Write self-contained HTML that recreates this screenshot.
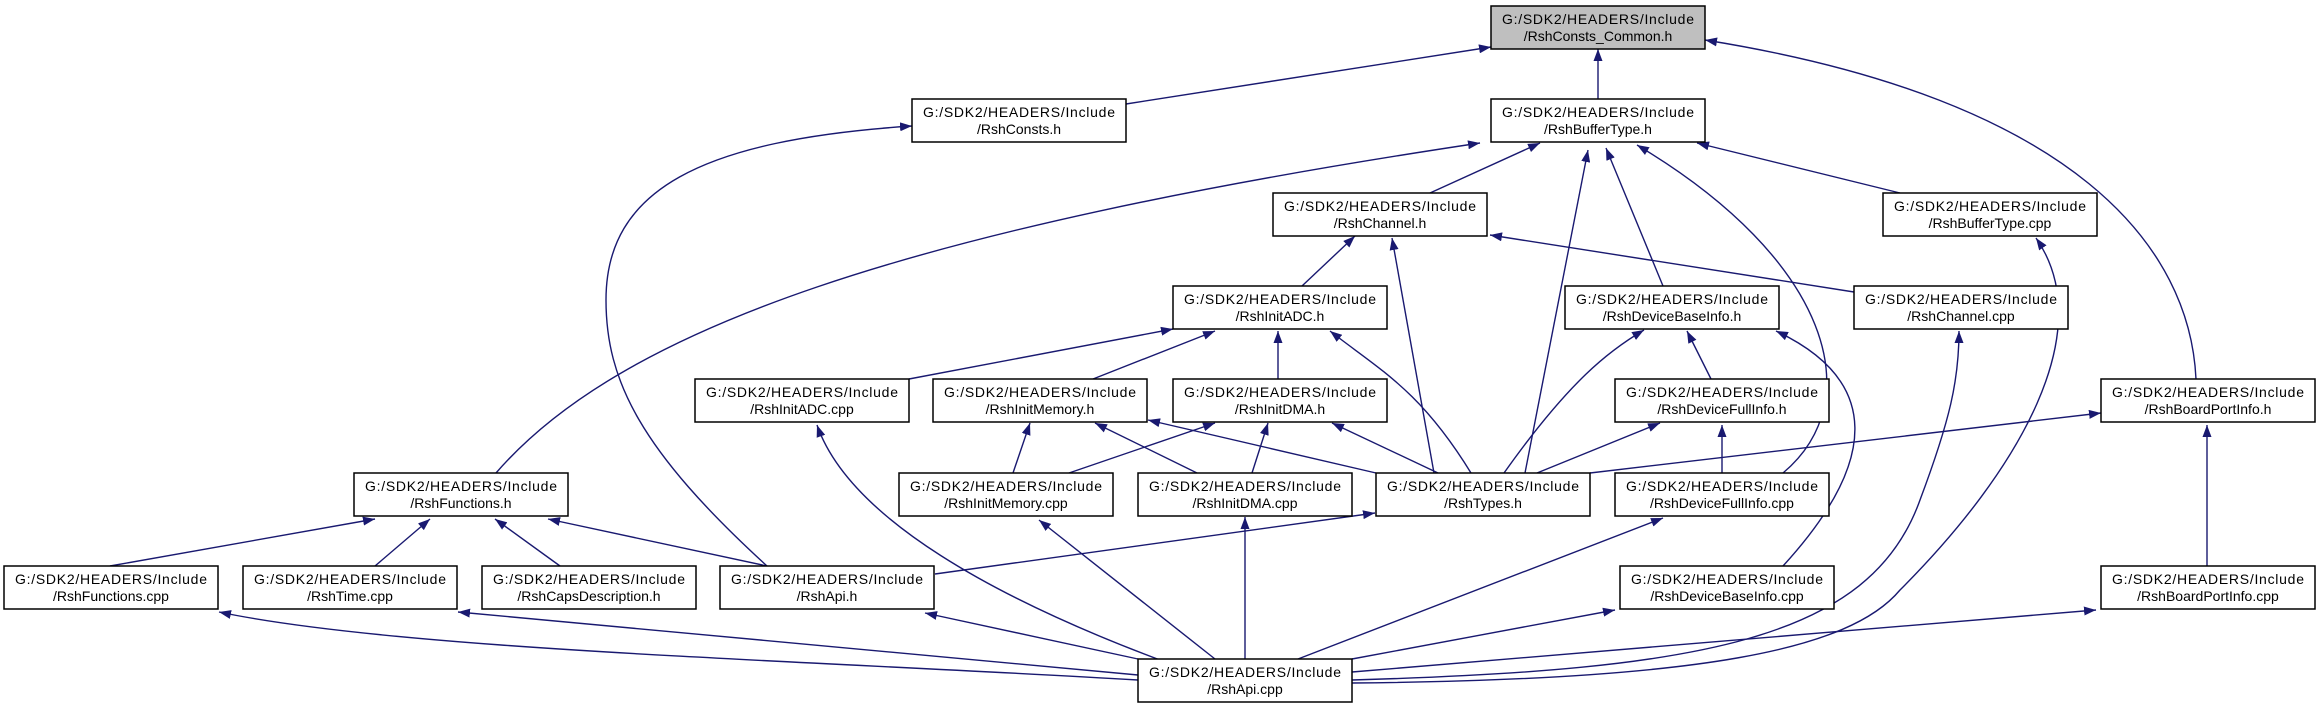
<!DOCTYPE html>
<html><head><meta charset="utf-8"><style>
html,body{margin:0;padding:0;background:#fff;}
svg{display:block;}
text{font-family:"Liberation Sans",sans-serif;font-size:14px;fill:#000;}
</style></head><body>
<svg width="2321" height="709" viewBox="0 0 2321 709" xmlns="http://www.w3.org/2000/svg">
<defs>
<marker id="a" markerWidth="12" markerHeight="9" refX="12" refY="4.5" orient="auto" markerUnits="userSpaceOnUse">
<path d="M0,0 L12,4.5 L0,9 Z" fill="#191970"/>
</marker>
</defs>
<g fill="none" stroke="#191970" stroke-width="1.4" marker-end="url(#a)">
<path d="M1126,104 L1491,47"/>
<path d="M1598,99 L1598,49"/>
<path d="M2196,379 C2190,250 2080,100 1705,40"/>
<path d="M1430,193 L1540,143"/>
<path d="M496,473 C620,330 900,230 1480,143"/>
<path d="M1525,473 L1588,150"/>
<path d="M1663,286 L1606,148"/>
<path d="M1783,473 C1870,400 1830,260 1637,145"/>
<path d="M1900,193 L1697,143"/>
<path d="M1302,286 L1355,236"/>
<path d="M1434,473 L1392,238"/>
<path d="M1854,292 L1490,235"/>
<path d="M909,379 L1173,329"/>
<path d="M1093,379 L1215,331"/>
<path d="M1278,379 L1278,331"/>
<path d="M1471,473 C1420,390 1380,370 1330,331"/>
<path d="M1013,473 L1030,423"/>
<path d="M1376,473 L1148,420"/>
<path d="M1197,473 L1095,423"/>
<path d="M1069,473 L1215,423"/>
<path d="M1252,473 L1268,423"/>
<path d="M1438,473 L1332,423"/>
<path d="M1504,473 C1570,380 1610,350 1644,330"/>
<path d="M1537,473 L1660,423"/>
<path d="M1711,379 L1687,331"/>
<path d="M1722,473 L1722,425"/>
<path d="M1590,473 L2101,413"/>
<path d="M1783,566 C1880,460 1880,380 1776,331"/>
<path d="M2207,566 L2207,425"/>
<path d="M110,566 L375,519"/>
<path d="M375,566 L430,519"/>
<path d="M560,566 L495,519"/>
<path d="M767,566 L548,519"/>
<path d="M767,566 C640,450 606,380 606,300 C606,190 700,140 912,126"/>
<path d="M935,574 L1375,513"/>
<path d="M1138,680 C800,660 400,650 219,612"/>
<path d="M1138,675 L458,612"/>
<path d="M1138,659 L925,613"/>
<path d="M1160,660 C1000,600 850,520 817,425"/>
<path d="M1215,659 L1039,520"/>
<path d="M1245,659 L1245,517"/>
<path d="M1298,659 L1663,518"/>
<path d="M1352,659 L1615,610"/>
<path d="M1352,672 L2096,610"/>
<path d="M1352,680 C1700,670 1870,640 1920,500 C1950,420 1959,380 1959,331"/>
<path d="M1352,683 C1700,680 1850,650 1900,590 C2020,470 2100,330 2036,238"/>
</g>
<g stroke="#000" stroke-width="1.5" fill="#fff">
<rect x="1491" y="6" width="214" height="43" fill="#bfbfbf"/>
<rect x="912" y="99" width="214" height="43"/>
<rect x="1491" y="99" width="214" height="43"/>
<rect x="1273" y="193" width="214" height="43"/>
<rect x="1883" y="193" width="214" height="43"/>
<rect x="1173" y="286" width="214" height="43"/>
<rect x="1565" y="286" width="214" height="43"/>
<rect x="1854" y="286" width="214" height="43"/>
<rect x="695" y="379" width="214" height="43"/>
<rect x="933" y="379" width="214" height="43"/>
<rect x="1173" y="379" width="214" height="43"/>
<rect x="1615" y="379" width="214" height="43"/>
<rect x="2101" y="379" width="214" height="43"/>
<rect x="354" y="473" width="214" height="43"/>
<rect x="899" y="473" width="214" height="43"/>
<rect x="1138" y="473" width="214" height="43"/>
<rect x="1376" y="473" width="214" height="43"/>
<rect x="1615" y="473" width="214" height="43"/>
<rect x="4" y="566" width="214" height="43"/>
<rect x="243" y="566" width="214" height="43"/>
<rect x="482" y="566" width="214" height="43"/>
<rect x="720" y="566" width="214" height="43"/>
<rect x="1620" y="566" width="214" height="43"/>
<rect x="2101" y="566" width="214" height="43"/>
<rect x="1138" y="659" width="214" height="43"/>
</g>
<g text-anchor="middle">
<text x="1598" y="24" textLength="192">G:/SDK2/HEADERS/Include</text><text x="1598" y="41">/RshConsts_Common.h</text>
<text x="1019" y="117" textLength="192">G:/SDK2/HEADERS/Include</text><text x="1019" y="134">/RshConsts.h</text>
<text x="1598" y="117" textLength="192">G:/SDK2/HEADERS/Include</text><text x="1598" y="134">/RshBufferType.h</text>
<text x="1380" y="211" textLength="192">G:/SDK2/HEADERS/Include</text><text x="1380" y="228">/RshChannel.h</text>
<text x="1990" y="211" textLength="192">G:/SDK2/HEADERS/Include</text><text x="1990" y="228">/RshBufferType.cpp</text>
<text x="1280" y="304" textLength="192">G:/SDK2/HEADERS/Include</text><text x="1280" y="321">/RshInitADC.h</text>
<text x="1672" y="304" textLength="192">G:/SDK2/HEADERS/Include</text><text x="1672" y="321">/RshDeviceBaseInfo.h</text>
<text x="1961" y="304" textLength="192">G:/SDK2/HEADERS/Include</text><text x="1961" y="321">/RshChannel.cpp</text>
<text x="802" y="397" textLength="192">G:/SDK2/HEADERS/Include</text><text x="802" y="414">/RshInitADC.cpp</text>
<text x="1040" y="397" textLength="192">G:/SDK2/HEADERS/Include</text><text x="1040" y="414">/RshInitMemory.h</text>
<text x="1280" y="397" textLength="192">G:/SDK2/HEADERS/Include</text><text x="1280" y="414">/RshInitDMA.h</text>
<text x="1722" y="397" textLength="192">G:/SDK2/HEADERS/Include</text><text x="1722" y="414">/RshDeviceFullInfo.h</text>
<text x="2208" y="397" textLength="192">G:/SDK2/HEADERS/Include</text><text x="2208" y="414">/RshBoardPortInfo.h</text>
<text x="461" y="491" textLength="192">G:/SDK2/HEADERS/Include</text><text x="461" y="508">/RshFunctions.h</text>
<text x="1006" y="491" textLength="192">G:/SDK2/HEADERS/Include</text><text x="1006" y="508">/RshInitMemory.cpp</text>
<text x="1245" y="491" textLength="192">G:/SDK2/HEADERS/Include</text><text x="1245" y="508">/RshInitDMA.cpp</text>
<text x="1483" y="491" textLength="192">G:/SDK2/HEADERS/Include</text><text x="1483" y="508">/RshTypes.h</text>
<text x="1722" y="491" textLength="192">G:/SDK2/HEADERS/Include</text><text x="1722" y="508">/RshDeviceFullInfo.cpp</text>
<text x="111" y="584" textLength="192">G:/SDK2/HEADERS/Include</text><text x="111" y="601">/RshFunctions.cpp</text>
<text x="350" y="584" textLength="192">G:/SDK2/HEADERS/Include</text><text x="350" y="601">/RshTime.cpp</text>
<text x="589" y="584" textLength="192">G:/SDK2/HEADERS/Include</text><text x="589" y="601">/RshCapsDescription.h</text>
<text x="827" y="584" textLength="192">G:/SDK2/HEADERS/Include</text><text x="827" y="601">/RshApi.h</text>
<text x="1727" y="584" textLength="192">G:/SDK2/HEADERS/Include</text><text x="1727" y="601">/RshDeviceBaseInfo.cpp</text>
<text x="2208" y="584" textLength="192">G:/SDK2/HEADERS/Include</text><text x="2208" y="601">/RshBoardPortInfo.cpp</text>
<text x="1245" y="677" textLength="192">G:/SDK2/HEADERS/Include</text><text x="1245" y="694">/RshApi.cpp</text>
</g>
</svg>
</body></html>
